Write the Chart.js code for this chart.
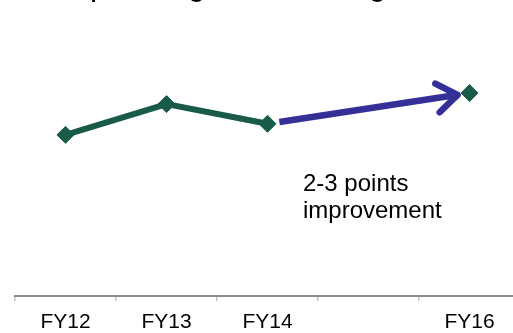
<!DOCTYPE html>
<html>
<head>
<meta charset="utf-8">
<script src="https://cdn.jsdelivr.net/npm/chart.js@4"></script>
<style>
  html, body { margin: 0; padding: 0; overflow: hidden; background: #fff; height: 333px; }
  #margemChart { display: block; }
</style>
</head>
<body>
<canvas id="margemChart" width="540" height="344"></canvas>
<script>
// anos fiscais (FY15 fica sem valor, so o espaco)
var anos = ['FY12', 'FY13', 'FY14', 'FY15', 'FY16'];
var anosTexto = ['FY12', 'FY13', 'FY14', '', 'FY16'];
var margem = [13.1, 15.6, 14.0, null, 16.5]; // pontos percentuais
var titulo = 'Operating EBITA margin';
var nota = ['2-3 points', 'improvement'];

var verde = '#175b48';
var roxo = '#352f98';

// seta do FY14 ate a meta do FY16
const setaPlugin = {
  id: 'seta',
  afterDatasetsDraw(chart) {
    var pts = chart.getDatasetMeta(0).data;
    var a = pts[2], b = pts[4];
    var dx = b.x - a.x, dy = b.y - a.y;
    var len = Math.sqrt(dx * dx + dy * dy);
    var ux = dx / len, uy = dy / len;
    var x0 = a.x + ux * 12, y0 = a.y + uy * 12;
    var x1 = b.x - ux * 12, y1 = b.y - uy * 12;
    var c = chart.ctx;
    c.save();
    c.strokeStyle = roxo;
    c.lineWidth = 6.5;
    c.lineCap = 'butt';
    c.beginPath();
    c.moveTo(x0, y0);
    c.lineTo(x1 - ux * 3, y1 - uy * 3);
    c.stroke();
    // ponta aberta
    var ang = Math.atan2(dy, dx);
    var abre = 0.62, tam = 25;
    c.lineCap = 'round';
    c.lineJoin = 'round';
    c.beginPath();
    c.moveTo(x1 - tam * Math.cos(ang - abre), y1 - tam * Math.sin(ang - abre));
    c.lineTo(x1, y1);
    c.lineTo(x1 - tam * Math.cos(ang + abre), y1 - tam * Math.sin(ang + abre));
    c.stroke();
    c.restore();
  },
  afterDraw(chart) {
    var c = chart.ctx;
    c.save();
    c.fillStyle = '#000';
    c.textBaseline = 'alphabetic';
    c.textAlign = 'left';
    // titulo fica quase todo fora do quadro
    c.font = '32px "Liberation Sans", Arial, sans-serif';
    c.fillText(titulo, 65, -5.5);
    c.font = '24px "Liberation Sans", Arial, sans-serif';
    c.fillText(nota[0], 303, 191);
    c.fillText(nota[1], 303, 218);
    c.restore();
  }
};

const ctx = document.getElementById('margemChart');

new Chart(ctx, {
  type: 'line',
  data: {
    labels: anos,
    datasets: [{
      label: 'Margem',
      data: margem,
      borderColor: verde,
      backgroundColor: verde,
      borderWidth: 6,
      pointStyle: 'rectRot',
      pointRadius: 8.5,
      pointBorderWidth: 1,
      pointBackgroundColor: verde,
      pointBorderColor: verde,
      spanGaps: false,
      tension: 0
    }]
  },
  options: {
    responsive: false,
    animation: false,
    layout: {
      padding: { top: 50, left: 15, right: 20, bottom: 0 }
    },
    plugins: {
      legend: { display: false },
      tooltip: { enabled: false }
    },
    scales: {
      x: {
        offset: true,
        grid: {
          offset: true,
          drawOnChartArea: false,
          drawTicks: true,
          tickLength: 5,
          color: '#c4c4c4',
          lineWidth: 1.5
        },
        border: { color: '#8c8c8c', width: 2 },
        ticks: {
          color: '#000',
          padding: 11,
          font: { family: '"Liberation Sans", Arial, sans-serif', size: 21, lineHeight: 1 },
          callback: function (v, i) { return anosTexto[i]; }
        }
      },
      y: {
        display: false,
        min: 0,
        max: 20
      }
    }
  },
  plugins: [setaPlugin]
});
</script>
</body>
</html>
